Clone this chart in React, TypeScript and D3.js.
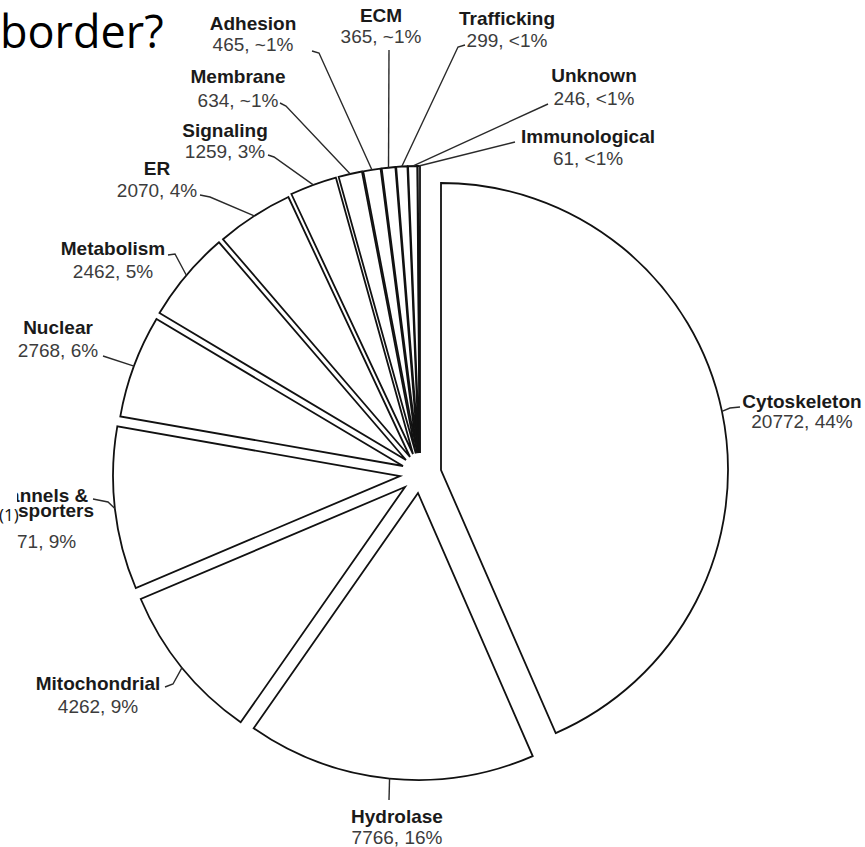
import React from "react";
import * as d3 from "d3";

const W = 865;
const H = 847;

// ---- data ----
const categories = [
  "Cytoskeleton", "Hydrolase", "Mitochondrial", "Channels & Transporters", "Nuclear",
  "Metabolism", "ER", "Signaling", "Membrane", "Adhesion", "ECM", "Trafficking",
  "Unknown", "Immunological",
];
const counts = [20772, 7766, 4262, 4371, 2768, 2462, 2070, 1259, 634, 465, 365, 299, 246, 61];
const shareLabels = ["44%", "16%", "9%", "9%", "6%", "5%", "4%", "3%", "~1%", "~1%", "~1%", "<1%", "<1%", "<1%"];
const nameLines = [
  ["Cytoskeleton"], ["Hydrolase"], ["Mitochondrial"], ["Channels &", "Transporters"], ["Nuclear"],
  ["Metabolism"], ["ER"], ["Signaling"], ["Membrane"], ["Adhesion"], ["ECM"], ["Trafficking"],
  ["Unknown"], ["Immunological"],
];

// ---- styling / layout ----
const explode: [number, number][] = [
  [21, 0], [-2, 23], [-15, 17], [-20, 6], [-17, -4], [-14, -10], [-10, -13], [-7, -16],
  [-4.2, -16.6], [-2.9, -16.8], [-1.8, -16.9], [-1, -17], [-0.4, -17], [0, -17],
];
// x: text centre, ys: baselines of name lines, vy: baseline of value line, leader: points before the arc
const labelLayout = [
  { x: 802, ys: [408], vy: 428, leader: [[740, 407], [730, 408]] },
  { x: 397, ys: [823], vy: 844, leader: [[389, 800]] },
  { x: 98, ys: [690], vy: 713, leader: [[165, 687], [173, 684]] },
  { x: 36, ys: [502, 517], vy: 548, leader: [[93, 499], [108, 502]] },
  { x: 58, ys: [334], vy: 357, leader: [[103, 356]] },
  { x: 113, ys: [255], vy: 278, leader: [[168, 255], [175, 254]] },
  { x: 157, ys: [175], vy: 197, leader: [[200, 195], [210, 197]] },
  { x: 225, ys: [137], vy: 158, leader: [[268, 155], [274, 157]] },
  { x: 238, ys: [83], vy: 107, leader: [[280, 103], [286, 106]] },
  { x: 253, ys: [30], vy: 51, leader: [[312, 51], [319, 53]] },
  { x: 381, ys: [22], vy: 43, leader: [[389, 50]] },
  { x: 507, ys: [25], vy: 47, leader: [[465, 45], [458, 47]] },
  { x: 594, ys: [82], vy: 105, leader: [[548, 104]] },
  { x: 588, ys: [143], vy: 165, leader: [[515, 142]] },
];

const FONT = "'Liberation Sans', Arial, Helvetica, sans-serif";

export default function App() {
  const cx = 420;
  const cy = 470;
  const R = 287;
  const pie = d3.pie<number>().sort(null).value((d) => d).startAngle(0).endAngle(2 * Math.PI);
  const arcs = pie(counts);
  const arcGen = d3.arc<d3.PieArcDatum<number>>().innerRadius(0).outerRadius(R);
  const line = d3.line();

  return (
    <svg width={W} height={H} viewBox={`0 0 ${W} ${H}`}
      style={{ position: "absolute", left: 0, top: 0, background: "#fff" }}>
      <rect x={0} y={0} width={W} height={H} fill="#fff" />
      <g>
        {arcs.map((a, i) => (
          <path key={i} d={arcGen(a) || ""}
            transform={`translate(${cx + explode[i][0]},${cy + explode[i][1]})`}
            fill="#fff" stroke="#111" strokeWidth={1.8} strokeLinejoin="miter" />
        ))}
      </g>
      <g>
        {arcs.map((a, i) => {
          const mid = (a.startAngle + a.endAngle) / 2;
          const vx = cx + explode[i][0];
          const vy = cy + explode[i][1];
          const hit: [number, number] = [vx + R * Math.sin(mid), vy - R * Math.cos(mid)];
          const pts = [...(labelLayout[i].leader as [number, number][]), hit];
          return <path key={i} d={line(pts) || ""} fill="none" stroke="#2a2a2a" strokeWidth={1.4} />;
        })}
      </g>
      <g fontFamily={FONT} fontSize={19} textAnchor="middle">
        {categories.map((c, i) => {
          const L = labelLayout[i];
          return (
            <g key={c}>
              {nameLines[i].map((t, j) => (
                <text key={j} x={L.x} y={L.ys[j]} fontWeight="bold" fill="#1a1a1a">{t}</text>
              ))}
              <text x={L.x} y={L.vy} fill="#3c3c3c">{`${counts[i]}, ${shareLabels[i]}`}</text>
            </g>
          );
        })}
      </g>
      {/* slide overlay elements */}
      <rect x={0} y={480} width={17} height={75} fill="#fff" />
      <text x={-1} y={521} fontFamily="'Open Sans', 'Noto Sans', sans-serif" fontSize={17} fill="#111">(1)</text>
      <text x={0} y={48} fontFamily="'Open Sans', 'Noto Sans', sans-serif" fontSize={45} fill="#000">border?</text>
    </svg>
  );
}
